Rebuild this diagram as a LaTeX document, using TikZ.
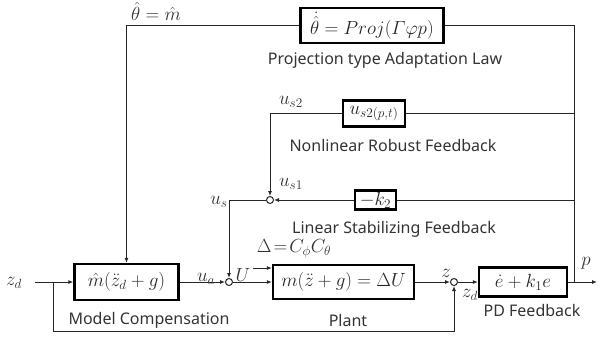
\RequirePackage{fix-cm}
\documentclass[tikz,border=0pt]{standalone}
\usepackage{amsmath,amssymb}
\usepackage{fontspec}
\setmainfont{Noto Sans}
\usetikzlibrary{arrows.meta, calc}

\begin{document}
\begin{tikzpicture}[x=1pt, y=-1pt,
    line/.style={draw=black!85, line width=1pt},
    arr/.style={line, -{Latex[length=5pt, width=4pt]}},
    blk/.style={draw=black, line width=2.2pt, inner sep=0pt, text=black!85},
    sumj/.style={circle, draw=black!85, line width=1pt, fill=white, inner sep=0pt, minimum size=7pt},
    lbl/.style={text=black!80, inner sep=0pt},
    txt/.style={lbl, font=\fontsize{16}{19}\selectfont},
    every node/.append style={font=\fontsize{19}{22}\selectfont}]
  \useasboundingbox (0,0) rectangle (600,338);

  \node[blk, minimum width=143, minimum height=35] (adapt) at (372,25.5) {$\dot{\hat{\theta}}=Proj(\varGamma\varphi p)$};
  \node[blk, minimum width=62, minimum height=26] (rob) at (374,113.5) {$u_{s2(p,t)}$};
  \node[blk, minimum width=41, minimum height=19] (lin) at (375.5,200) {$-k_2$};
  \node[blk, minimum width=104, minimum height=36] (comp) at (126.5,282) {$\hat{m}(\ddot{z}_d+g)$};
  \node[blk, minimum width=141, minimum height=34] (plant) at (343.5,282) {$m(\ddot{z}+g)=\Delta U$};
  \node[blk, minimum width=88, minimum height=29] (pd) at (523,282) {$\dot{e}+k_1e$};

  \node[sumj] (s1) at (270,200) {};
  \node[sumj] (s2) at (229,282) {};
  \node[sumj] (s3) at (454,282) {};

  \coordinate (zin) at (35,282);
  \coordinate (zbr) at (53,282);
  \coordinate (pbr) at (574,282);
  \coordinate (pout) at (597,282);
  \coordinate (din) at (253,268);

  \draw[line] (pbr) |- (adapt.east);
  \draw[line] (pbr) |- (rob.east);
  \draw[line] (574,200) -- (lin.east);
  \draw[arr] (adapt.west) -| (comp.north);
  \draw[arr] (rob.west) -| (s1.north);
  \draw[arr] (lin.west) -- (s1.east);
  \draw[arr] (s1.west) -| (s2.north);
  \draw[arr] (zin) -- (comp.west);
  \draw[arr] (zbr) |- (454,331) -- (s3.south);
  \draw[arr] (comp.east) -- (s2.west);
  \draw[arr] (s2.east) -- (plant.west);
  \draw[arr] (din) -- (din -| plant.west);
  \draw[arr] (plant.east) -- (s3.west);
  \draw[arr] (s3.east) -- (pd.west);
  \draw[arr] (pd.east) -- (pout);

  \node[lbl] (thl) at (156,11) {$\hat{\theta}=\hat{m}$};
  \node[txt] (adl) at (385,60) {Projection type Adaptation Law};
  \node[lbl] (us2) at (291,102) {$u_{s2}$};
  \node[txt] (rbl) at (393,145) {Nonlinear Robust Feedback};
  \node[lbl] (us1) at (291,184) {$u_{s1}$};
  \node[lbl] (us) at (219,202) {$u_s$};
  \node[txt] (lnl) at (394,229) {Linear Stabilizing Feedback};
  \node[lbl] (dl) at (294,249) {$\Delta\!=\!C_\phi C_\theta$};
  \node[lbl] (zdl) at (14,283) {$z_d$};
  \node[lbl] (ual) at (206,279) {$u_a$};
  \node[lbl] (Ul) at (243,275) {$U$};
  \node[lbl] (zl) at (446,273) {$z$};
  \node[lbl] (zd2) at (470,295) {$z_d$};
  \node[lbl] (pl) at (586,263) {$p$};
  \node[txt] (mcl) at (149,320) {Model Compensation};
  \node[txt] (ptl) at (348,320) {Plant};
  \node[txt] (pdl) at (532,310) {PD Feedback};
\end{tikzpicture}
\end{document}
